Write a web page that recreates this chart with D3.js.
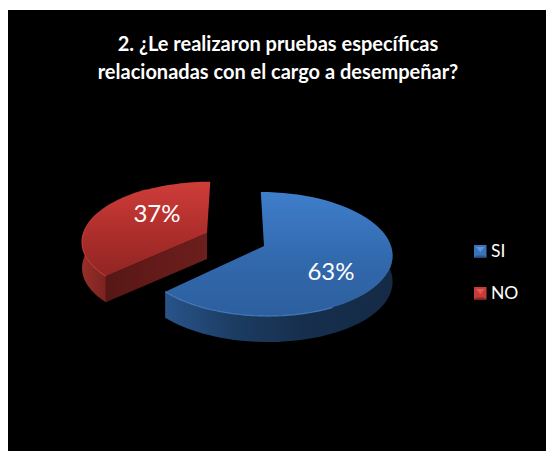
<!DOCTYPE html>
<html><head><meta charset="utf-8">
<script src="https://cdn.jsdelivr.net/npm/d3@7"></script>
<style>html,body{margin:0;padding:0;background:#fff;overflow:hidden}svg{display:block}text{font-family:Lato,"Open Sans",sans-serif;fill:#fff}</style>
</head><body><svg id="c" width="546" height="451"></svg>
<script>
const categories = ["SI", "NO"];
const values = [63, 37];
const labels = ["63%", "37%"];
const titleLines = ["2. ¿Le realizaron pruebas específicas", "relacionadas con el cargo a desempeñar?"];

const svg = d3.select("#c");
const defs = svg.append("defs");
svg.append("rect").attr("x", 8).attr("y", 10).attr("width", 538).attr("height", 441).attr("fill", "#000");

function grad(id, horizontal, x1, x2, stops) {
  const g = defs.append("linearGradient").attr("id", id).attr("gradientUnits", "userSpaceOnUse");
  if (horizontal) g.attr("x1", x1).attr("x2", x2).attr("y1", 0).attr("y2", 0);
  else g.attr("x1", 0).attr("x2", 0).attr("y1", x1).attr("y2", x2);
  stops.forEach(([o, c]) => g.append("stop").attr("offset", o).attr("stop-color", c));
}
grad("faceSI", false, 192, 316, [[0, "#3f7ecb"], [.55, "#3269ad"], [1, "#2c5f9e"]]);
grad("faceNO", false, 181, 277, [[0, "#cf3d3a"], [.5, "#b02f2c"], [1, "#8f2523"]]);
grad("wallSI", true, 166, 393, [[0, "#28548a"], [.3, "#1c3c62"], [.6, "#172f4e"], [1, "#142a45"]]);
grad("wallNO", true, 80, 108, [[0, "#98302b"], [1, "#7a211e"]]);
grad("cutNO", true, 107, 207, [[0, "#561715"], [.5, "#641b19"], [1, "#6c1f1c"]]);

// Perspective of the pie plane
const camX = 236, camY = 246, rimX = 127, rimY = 61, k = 0.129, depth = 26;
function project(X, V) {
  const s = 1 / (1 - k * V);
  return [camX + X * s, camY + rimY * V * s];
}
const offsets = [[28, 0], [-29.8, -0.22]]; // exploded slice centres in plane units
function rimPoint(i, a) {
  return project(offsets[i][0] + rimX * Math.sin(a), offsets[i][1] - Math.cos(a));
}
const line = d3.line();
const slices = d3.pie().sort(null).value(d => d)(values);
function arcPts(i, a0, a1) {
  return d3.range(0, 61).map(t => rimPoint(i, a0 + (a1 - a0) * t / 60));
}
const down = p => [p[0], p[1] + depth];

const order = [1, 0];
order.forEach(i => {
  const sl = slices[i];
  const apex = project(offsets[i][0], offsets[i][1]);
  if (i === 1) {
    const tip = rimPoint(1, sl.startAngle);
    svg.append("path").attr("d", line([apex, tip, down(tip), down(apex)]) + "Z").attr("fill", "url(#cutNO)");
    const outer = arcPts(1, sl.startAngle, sl.startAngle + 0.85);
    svg.append("path").attr("d", line(outer.concat(outer.map(down).reverse())) + "Z").attr("fill", "url(#wallNO)");
  } else {
    const outer = arcPts(0, Math.PI * 0.42, sl.endAngle);
    svg.append("path").attr("d", line(outer.concat(outer.map(down).reverse())) + "Z").attr("fill", "url(#wallSI)");
  }
  const rim = arcPts(i, sl.startAngle, sl.endAngle);
  svg.append("path").attr("d", line([apex].concat(rim)) + "Z")
    .attr("fill", i === 0 ? "url(#faceSI)" : "url(#faceNO)");
  const front = i === 0 ? arcPts(0, Math.PI * 0.85, sl.endAngle) : arcPts(1, sl.startAngle, sl.endAngle - 0.6);
  svg.append("path").attr("d", line(front)).attr("fill", "none")
    .attr("stroke", i === 0 ? "#4c86c8" : "#c8403b").attr("stroke-width", 1.2).attr("stroke-opacity", .8);
});

// Percent labels
const labelX = [331, 157], labelY = [280, 222];
svg.selectAll(".pct").data(labels).join("text").attr("class", "pct")
  .attr("x", (d, i) => labelX[i]).attr("y", (d, i) => labelY[i])
  .attr("text-anchor", "middle").attr("font-size", 24).text(d => d);

// Title
svg.selectAll(".ttl").data(titleLines).join("text").attr("class", "ttl")
  .attr("x", 278).attr("y", (d, i) => 51 + i * 28)
  .attr("text-anchor", "middle").attr("font-weight", 700).attr("font-size", 20).text(d => d);

// Legend
const legendColors = [["#5a96dc", "#3b73b8", "#2b5688"], ["#e25a56", "#c63c38", "#8c2a27"]];
const legendY = [245, 287];
categories.forEach((c, i) => {
  const x = 474, y = legendY[i], w = 12.5;
  const col = legendColors[i];
  svg.append("rect").attr("x", x).attr("y", y).attr("width", w).attr("height", w).attr("fill", col[1]);
  svg.append("path").attr("d", line([[x + 2, y + 2], [x + w - 2, y + 2], [x + w / 2, y + w / 2 + 1]]) + "Z").attr("fill", col[0]);
  svg.append("path").attr("d", line([[x, y + w], [x + w, y + w], [x + w - 2, y + w - 2], [x + 2, y + w - 2]]) + "Z").attr("fill", col[2]);
  svg.append("text").attr("x", 491).attr("y", y + 12).attr("font-size", 17.5).text(c);
});
</script></body></html>
